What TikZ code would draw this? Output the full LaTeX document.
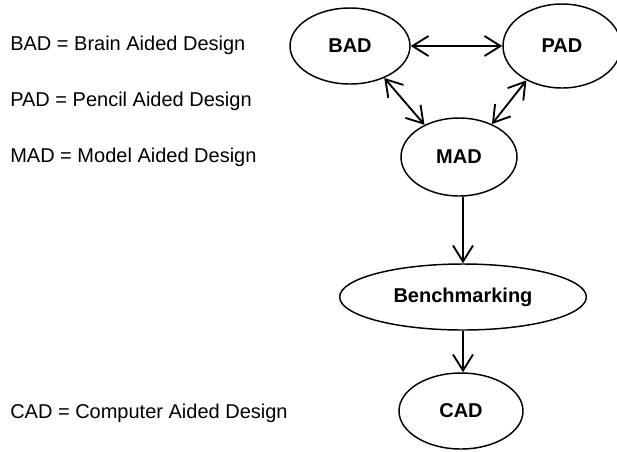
\documentclass[tikz,border=0pt]{standalone}
\usepackage{fontspec}
\setmainfont{Liberation Sans}
\usepackage{tikz}
\usetikzlibrary{arrows.meta, positioning, shapes.geometric}

\begin{document}
\begin{tikzpicture}[x=0.75pt, y=-0.75pt,
  v/.style={ellipse, draw, line width=1.1pt, inner sep=0pt, font=\fontsize{15}{18}\selectfont\bfseries},
  t/.style={anchor=west, inner sep=0pt, font=\fontsize{15}{18}\selectfont},
  e/.style={{Straight Barb[length=12pt, width=15pt]}-{Straight Barb[length=12pt, width=15pt]}, line width=1.4pt},
  d/.style={-{Straight Barb[length=12pt, width=15pt]}, line width=1.4pt}]
  \useasboundingbox (0,0) rectangle (617,451);
  \node[v, minimum width=90pt, minimum height=57pt] (bad) at (350,46) {BAD};
  \node[v, minimum width=88.5pt, minimum height=63pt] (pad) at (562,46) {PAD};
  \node[v, minimum width=87pt, minimum height=58.5pt] (mad) at (459,157) {MAD};
  \node[v, minimum width=185pt, minimum height=49.5pt] (bench) at (463,297) {Benchmarking};
  \node[v, minimum width=93pt, minimum height=57pt] (cad) at (461,411) {CAD};
  \draw[e] (bad) -- (pad);
  \draw[e] (bad.-43) -- (mad.137);
  \draw[e] (pad.224) -- (mad.45);
  \draw[d] (mad.south -| bench) -- (bench.north);
  \draw[d] (bench.south) -- (cad.north -| bench);
  \node[t] (kbad) at (10,45) {BAD = Brain Aided Design};
  \node[t] (kpad) at (10,101) {PAD = Pencil Aided Design};
  \node[t] (kmad) at (10,157) {MAD = Model Aided Design};
  \node[t] (kcad) at (10,413) {CAD = Computer Aided Design};
\end{tikzpicture}
\end{document}
